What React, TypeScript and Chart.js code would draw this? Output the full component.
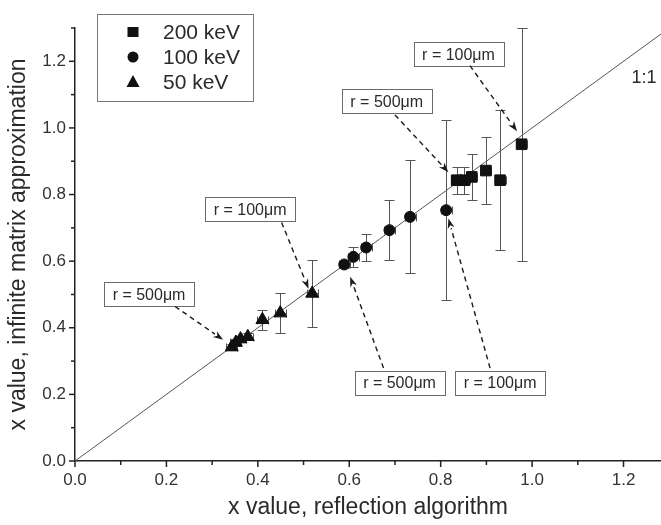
import React, { useEffect, useRef } from "react";
import { Chart, registerables } from "chart.js";

Chart.register(...registerables);

// ---------------- data ----------------
const xTickLabels = ["0.0", "0.2", "0.4", "0.6", "0.8", "1.0", "1.2"];
const yTickLabels = ["0.0", "0.2", "0.4", "0.6", "0.8", "1.0", "1.2"];

const seriesNames = ["200 keV", "100 keV", "50 keV"];

const kev200X = [0.835, 0.852, 0.868, 0.899, 0.93, 0.977];
const kev200Y = [0.843, 0.843, 0.853, 0.872, 0.843, 0.951];
const kev200ErrY = [0.04, 0.04, 0.07, 0.1, 0.21, 0.35];
const kev200ErrX = [0.012, 0.012, 0.012, 0.012, 0.012, 0.012];

const kev100X = [0.589, 0.609, 0.637, 0.688, 0.733, 0.812];
const kev100Y = [0.59, 0.613, 0.641, 0.693, 0.733, 0.753];
const kev100ErrY = [0.01, 0.03, 0.04, 0.09, 0.17, 0.27];
const kev100ErrX = [0.012, 0.012, 0.012, 0.012, 0.012, 0.012];

const kev50X = [0.343, 0.352, 0.362, 0.378, 0.41, 0.449, 0.519];
const kev50Y = [0.342, 0.356, 0.366, 0.373, 0.424, 0.444, 0.503];
const kev50ErrY = [0.01, 0.01, 0.01, 0.01, 0.03, 0.06, 0.1];
const kev50ErrX = [0.012, 0.012, 0.012, 0.012, 0.012, 0.012, 0.012];

const identityX = [0, 1.3];
const identityLabel = "1:1";

const xTitle = "x value, reflection algorithm";
const yTitle = "x value, infinite matrix approximation";

const annotationLabels = [
  "r = 100μm",
  "r = 500μm",
  "r = 100μm",
  "r = 500μm",
  "r = 500μm",
  "r = 100μm",
];

// ---------------- layout / style ----------------
const FONT = '"Liberation Sans", Arial, Helvetica, sans-serif';
const AXIS_COLOR = "#222";
const TEXT_COLOR = "#2a2a2a";
const MARK_COLOR = "#111";
const ERR_COLOR = "#555";

const X_MAX = 1.282;
const Y_MAX = 1.3;

// annotation geometry in data units: box centre, arrow start, arrow tip
const ANNOTATION_GEOM = [
  { box: [0.839, 1.221], from: [0.864, 1.187], to: [0.967, 0.99] },
  { box: [0.682, 1.08], from: [0.7, 1.039], to: [0.817, 0.867] },
  { box: [0.383, 0.756], from: [0.452, 0.716], to: [0.511, 0.517] },
  { box: [0.162, 0.5], from: [0.219, 0.464], to: [0.324, 0.364] },
  { box: [0.71, 0.235], from: [0.675, 0.279], to: [0.602, 0.553] },
  { box: [0.93, 0.235], from: [0.908, 0.279], to: [0.817, 0.728] },
];
const IDENTITY_LABEL_POS = [1.245, 1.151];

const LEGEND_BOX = { x: 97.5, y: 14.5, w: 156, h: 87 };
const LEGEND_ROWS = [32, 57, 82];
const LEGEND_MARK_X = 133;
const LEGEND_TEXT_X = 163;
const MARKERS = ["rect", "circle", "triangle"];

function drawMarker(ctx: CanvasRenderingContext2D, style: string, x: number, y: number) {
  ctx.beginPath();
  if (style === "rect") {
    ctx.rect(x - 5.5, y - 5, 11, 10);
  } else if (style === "circle") {
    ctx.arc(x, y, 5.5, 0, Math.PI * 2);
  } else {
    ctx.moveTo(x, y - 7);
    ctx.lineTo(x + 6.5, y + 5);
    ctx.lineTo(x - 6.5, y + 5);
    ctx.closePath();
  }
  ctx.fill();
}

const errorBarPlugin = {
  id: "errorBars",
  beforeDatasetsDraw(chart: any) {
    const { ctx } = chart;
    const xs = chart.scales.x;
    const ys = chart.scales.y;
    ctx.save();
    ctx.strokeStyle = ERR_COLOR;
    ctx.lineWidth = 1;
    chart.data.datasets.forEach((ds: any) => {
      if (!ds.errY) return;
      ds.data.forEach((p: any, i: number) => {
        const px = Math.round(xs.getPixelForValue(p.x)) + 0.5;
        const py = Math.round(ys.getPixelForValue(p.y)) + 0.5;
        const top = Math.round(ys.getPixelForValue(p.y + ds.errY[i])) + 0.5;
        const bot = Math.round(ys.getPixelForValue(p.y - ds.errY[i])) + 0.5;
        ctx.beginPath();
        ctx.moveTo(px, top);
        ctx.lineTo(px, bot);
        ctx.moveTo(px - 5, top);
        ctx.lineTo(px + 5, top);
        ctx.moveTo(px - 5, bot);
        ctx.lineTo(px + 5, bot);
        const l = Math.round(xs.getPixelForValue(p.x - ds.errX[i])) + 0.5;
        const r = Math.round(xs.getPixelForValue(p.x + ds.errX[i])) + 0.5;
        ctx.moveTo(l, py);
        ctx.lineTo(r, py);
        ctx.moveTo(l, py - 4);
        ctx.lineTo(l, py + 4);
        ctx.moveTo(r, py - 4);
        ctx.lineTo(r, py + 4);
        ctx.stroke();
      });
    });
    ctx.restore();
  },
};

const decorPlugin = {
  id: "decor",
  afterDraw(chart: any) {
    const { ctx, chartArea } = chart;
    const xs = chart.scales.x;
    const ys = chart.scales.y;
    ctx.save();
    // tick marks
    ctx.strokeStyle = AXIS_COLOR;
    ctx.lineWidth = 1.5;
    xs.ticks.forEach((t: any) => {
      const k = Math.round(t.value * 10);
      const len = k % 2 === 0 ? 6 : 4;
      const px = xs.getPixelForValue(t.value);
      ctx.beginPath();
      ctx.moveTo(px, chartArea.bottom);
      ctx.lineTo(px, chartArea.bottom + len);
      ctx.stroke();
    });
    ys.ticks.forEach((t: any) => {
      const k = Math.round(t.value * 10);
      const len = k % 2 === 0 ? 6 : 4;
      const py = ys.getPixelForValue(t.value);
      ctx.beginPath();
      ctx.moveTo(chartArea.left, py);
      ctx.lineTo(chartArea.left - len, py);
      ctx.stroke();
    });

    // annotations
    ctx.font = `16px ${FONT}`;
    ctx.textAlign = "center";
    ctx.textBaseline = "middle";
    ANNOTATION_GEOM.forEach((a, i) => {
      const bx = xs.getPixelForValue(a.box[0]);
      const by = ys.getPixelForValue(a.box[1]);
      const w = 90;
      const h = 24;
      ctx.fillStyle = "#fff";
      ctx.fillRect(bx - w / 2, by - h / 2, w, h);
      ctx.strokeStyle = "#6a6a6a";
      ctx.lineWidth = 1;
      ctx.setLineDash([]);
      ctx.strokeRect(Math.round(bx - w / 2) + 0.5, Math.round(by - h / 2) + 0.5, w, h);
      ctx.fillStyle = TEXT_COLOR;
      ctx.fillText(annotationLabels[i], bx, by + 1);

      const x1 = xs.getPixelForValue(a.from[0]);
      const y1 = ys.getPixelForValue(a.from[1]);
      const x2 = xs.getPixelForValue(a.to[0]);
      const y2 = ys.getPixelForValue(a.to[1]);
      const ang = Math.atan2(y2 - y1, x2 - x1);
      const headLen = 10;
      const hx = x2 - Math.cos(ang) * headLen;
      const hy = y2 - Math.sin(ang) * headLen;
      ctx.strokeStyle = "#1a1a1a";
      ctx.lineWidth = 1.4;
      ctx.setLineDash([5, 4]);
      ctx.beginPath();
      ctx.moveTo(x1, y1);
      ctx.lineTo(hx, hy);
      ctx.stroke();
      ctx.setLineDash([]);
      ctx.fillStyle = "#1a1a1a";
      ctx.beginPath();
      ctx.moveTo(x2, y2);
      ctx.lineTo(hx + Math.cos(ang + Math.PI / 2) * 3.5, hy + Math.sin(ang + Math.PI / 2) * 3.5);
      ctx.lineTo(hx + Math.cos(ang) * 3, hy + Math.sin(ang) * 3);
      ctx.lineTo(hx + Math.cos(ang - Math.PI / 2) * 3.5, hy + Math.sin(ang - Math.PI / 2) * 3.5);
      ctx.closePath();
      ctx.fill();
    });

    // 1:1 label
    ctx.font = `18px ${FONT}`;
    ctx.fillStyle = TEXT_COLOR;
    ctx.fillText(
      identityLabel,
      xs.getPixelForValue(IDENTITY_LABEL_POS[0]),
      ys.getPixelForValue(IDENTITY_LABEL_POS[1])
    );

    // legend
    ctx.fillStyle = "#fff";
    ctx.fillRect(LEGEND_BOX.x, LEGEND_BOX.y, LEGEND_BOX.w, LEGEND_BOX.h);
    ctx.strokeStyle = "#777";
    ctx.lineWidth = 1;
    ctx.strokeRect(LEGEND_BOX.x, LEGEND_BOX.y, LEGEND_BOX.w, LEGEND_BOX.h);
    ctx.font = `21px ${FONT}`;
    ctx.textAlign = "left";
    seriesNames.forEach((name, i) => {
      ctx.fillStyle = MARK_COLOR;
      drawMarker(ctx, MARKERS[i], LEGEND_MARK_X, LEGEND_ROWS[i]);
      ctx.fillStyle = TEXT_COLOR;
      ctx.fillText(name, LEGEND_TEXT_X, LEGEND_ROWS[i] + 1);
    });
    ctx.restore();
  },
};

function toPoints(xs: number[], ys: number[]) {
  return xs.map((x, i) => ({ x, y: ys[i] }));
}

export default function App() {
  const canvasRef = useRef<HTMLCanvasElement | null>(null);

  useEffect(() => {
    const canvas = canvasRef.current;
    if (!canvas) return;
    const tickCb = (labels: string[]) => (value: any) => {
      const k = Math.round(Number(value) * 10);
      return k % 2 === 0 && labels[k / 2] !== undefined ? labels[k / 2] : "";
    };
    const scatterBase = {
      type: "scatter",
      showLine: false,
      backgroundColor: MARK_COLOR,
      borderColor: MARK_COLOR,
      borderWidth: 1,
      order: 1,
    };
    const chart = new Chart(canvas, {
      type: "scatter",
      data: {
        datasets: [
          {
            ...scatterBase,
            label: seriesNames[0],
            data: toPoints(kev200X, kev200Y),
            errY: kev200ErrY,
            errX: kev200ErrX,
            pointStyle: "rect",
            pointRadius: 7.5,
          },
          {
            ...scatterBase,
            label: seriesNames[1],
            data: toPoints(kev100X, kev100Y),
            errY: kev100ErrY,
            errX: kev100ErrX,
            pointStyle: "circle",
            pointRadius: 5.5,
          },
          {
            ...scatterBase,
            label: seriesNames[2],
            data: toPoints(kev50X, kev50Y),
            errY: kev50ErrY,
            errX: kev50ErrX,
            pointStyle: "triangle",
            pointRadius: 7.5,
          },
          {
            type: "line",
            label: identityLabel,
            data: toPoints(identityX, identityX),
            borderColor: "#555",
            borderWidth: 1,
            pointRadius: 0,
            fill: false,
            order: 10,
          },
        ] as any,
      },
      options: {
        responsive: false,
        animation: false,
        events: [],
        layout: { autoPadding: false, padding: { top: 28, right: 0, left: 0, bottom: 0 } },
        plugins: {
          legend: { display: false },
          tooltip: { enabled: false },
        },
        scales: {
          x: {
            type: "linear",
            min: 0,
            max: X_MAX,
            grid: { display: false, drawTicks: true, tickLength: 6 },
            border: { display: true, color: AXIS_COLOR, width: 1.5 },
            ticks: {
              stepSize: 0.1,
              includeBounds: false,
              autoSkip: false,
              maxRotation: 0,
              padding: 3,
              color: "#333",
              font: { family: FONT, size: 17 },
              callback: tickCb(xTickLabels),
            },
            title: {
              display: true,
              text: xTitle,
              color: TEXT_COLOR,
              font: { family: FONT, size: 23 },
              padding: { top: 0, bottom: 4 },
            },
            afterFit: (s: any) => {
              s.height = 64;
              s.paddingLeft = 0;
              s.paddingRight = 0;
            },
          },
          y: {
            type: "linear",
            min: 0,
            max: Y_MAX,
            grid: { display: false, drawTicks: true, tickLength: 6 },
            border: { display: true, color: AXIS_COLOR, width: 1.5 },
            ticks: {
              stepSize: 0.1,
              includeBounds: false,
              autoSkip: false,
              padding: 3,
              color: "#333",
              font: { family: FONT, size: 17 },
              callback: tickCb(yTickLabels),
            },
            title: {
              display: true,
              text: yTitle,
              color: TEXT_COLOR,
              font: { family: FONT, size: 23 },
              padding: { top: 5, bottom: 0 },
            },
            afterFit: (s: any) => {
              s.width = 75;
              s.paddingTop = 0;
              s.paddingBottom = 0;
            },
          },
        },
      } as any,
      plugins: [errorBarPlugin, decorPlugin],
    });
    return () => chart.destroy();
  }, []);

  return (
    <div style={{ position: "absolute", left: 0, top: 0, width: 661, height: 525, background: "#fff" }}>
      <canvas ref={canvasRef} width={661} height={525} style={{ display: "block" }} />
    </div>
  );
}
